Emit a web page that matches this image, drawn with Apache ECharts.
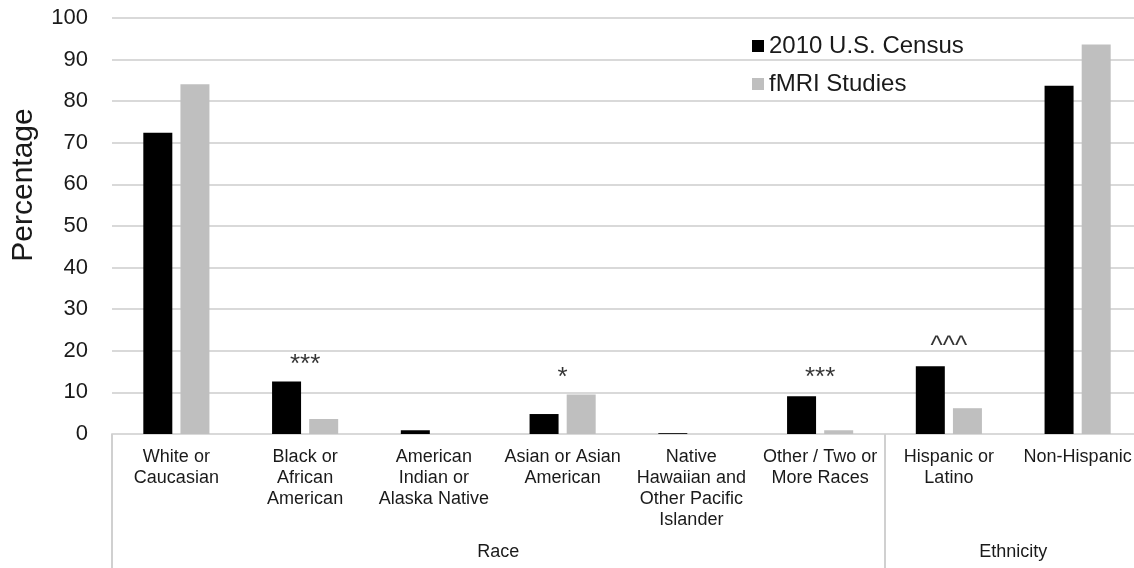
<!DOCTYPE html>
<html>
<head>
<meta charset="utf-8">
<script src="https://cdn.jsdelivr.net/npm/echarts@6/dist/echarts.min.js"></script>
<style>
html,body{margin:0;padding:0;background:#fff;}
#chart{width:1134px;height:568px;}
</style>
</head>
<body>
<div id="chart"></div>
<script>
var categories = ['White or\nCaucasian', 'Black or\nAfrican\nAmerican', 'American\nIndian or\nAlaska Native', 'Asian or Asian\nAmerican', 'Native\nHawaiian and\nOther Pacific\nIslander', 'Other / Two or\nMore Races', 'Hispanic or\nLatino', 'Non-Hispanic'];
var census = [72.4, 12.6, 0.9, 4.8, 0.2, 9.1, 16.3, 83.7];
var fmri = [84.1, 3.6, 0, 9.5, 0, 0.9, 6.2, 93.6];
var sigMarks = ['', '***', '', '*', '', '***', '^^^', ''];
var sigLevels = [null, 16.6, null, 13.5, null, 13.4, 21.0, null];
var groupNames = ['Race', 'Ethnicity'];
var groupSizes = [6, 2];

var FONT = '"Liberation Sans", Arial, sans-serif';
var TXT = '#1a1a1a';

// group boundaries and centres (in category units)
var bounds = [0], centres = [];
groupSizes.forEach(function (s) {
  var start = bounds[bounds.length - 1];
  centres.push(start + s / 2);
  bounds.push(start + s);
});

var sigData = categories.map(function (c, i) {
  return sigLevels[i] == null ? null : { value: [i, sigLevels[i]], mark: sigMarks[i] };
}).filter(function (d) { return d; });

var chart = echarts.init(document.getElementById('chart'), null, { renderer: 'canvas' });
chart.setOption({
  animation: false,
  backgroundColor: '#ffffff',
  textStyle: { fontFamily: FONT },
  grid: { left: 112, right: -8, top: 18, bottom: 134, outerBoundsMode: 'none', containLabel: false },
  legend: {
    orient: 'vertical',
    left: 752,
    top: 34,
    padding: 0,
    itemWidth: 12,
    itemHeight: 12,
    itemGap: 14,
    icon: 'rect',
    textStyle: { fontSize: 24, color: TXT, fontFamily: FONT },
    data: ['2010 U.S. Census', 'fMRI Studies']
  },
  xAxis: [
    {
      type: 'category',
      data: categories,
      axisLine: { show: true, lineStyle: { color: '#d9d9d9', width: 2 } },
      axisTick: { show: false },
      axisLabel: { interval: 0, fontSize: 18, lineHeight: 21, color: TXT, margin: 13, fontFamily: FONT, hideOverlap: false }
    },
    {
      type: 'value',
      position: 'bottom',
      min: 0,
      max: categories.length,
      axisLine: { show: false },
      splitLine: { show: false },
      axisTick: {
        show: true,
        customValues: bounds,
        length: 134,
        lineStyle: { color: '#d0d0d0', width: 2 }
      },
      axisLabel: {
        show: true,
        customValues: centres,
        margin: 109,
        fontSize: 18,
        color: TXT,
        fontFamily: FONT,
        formatter: function (v) {
          var idx = centres.indexOf(v);
          return idx >= 0 ? groupNames[idx] : '';
        }
      }
    }
  ],
  yAxis: {
    type: 'value',
    min: 0,
    max: 100,
    interval: 10,
    name: 'Percentage',
    nameLocation: 'middle',
    nameGap: 73,
    nameRotate: 90,
    nameTextStyle: { fontSize: 30, color: TXT, fontFamily: FONT, padding: [0, 0, 0, 82] },
    axisLine: { show: false },
    axisTick: { show: false },
    axisLabel: { fontSize: 22, color: TXT, margin: 24, fontFamily: FONT },
    splitLine: { lineStyle: { color: '#d9d9d9', width: 2 } }
  },
  series: [
    {
      name: '2010 U.S. Census',
      type: 'bar',
      data: census,
      barWidth: 29,
      barGap: '28%',
      itemStyle: { color: '#000000' }
    },
    {
      name: 'fMRI Studies',
      type: 'bar',
      data: fmri,
      barWidth: 29,
      itemStyle: { color: '#bfbfbf' }
    },
    {
      name: 'sig',
      type: 'scatter',
      data: sigData,
      symbolSize: 0,
      silent: true,
      label: {
        show: true,
        position: 'inside',
        fontSize: 26,
        color: '#000000',
        textBorderWidth: 0,
        fontFamily: FONT,
        formatter: function (p) { return p.data.mark; }
      }
    }
  ]
});
</script>
</body>
</html>
